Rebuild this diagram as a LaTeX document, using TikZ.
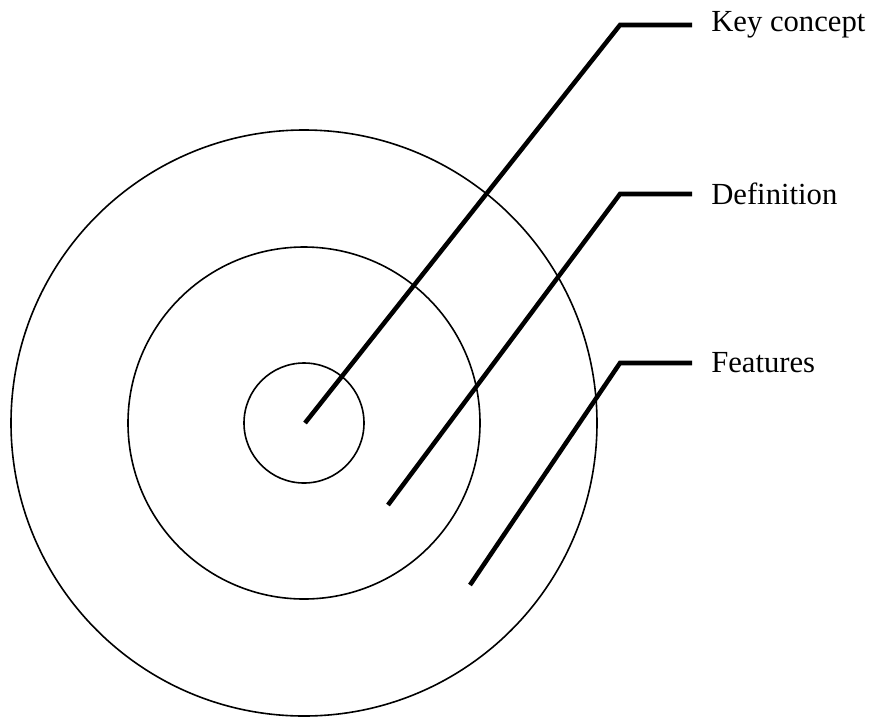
\documentclass[tikz,border=0pt]{standalone}
\usepackage{fontspec}
\setmainfont{Liberation Serif}

\begin{document}
\begin{tikzpicture}[x=0.75pt,y=-0.75pt,
		ring/.style={line width=1.2pt},
		pointer/.style={line width=3.4pt,line join=miter},
		tag/.style={anchor=west,inner xsep=14.25pt,inner ysep=0pt,font=\fontsize{23}{26}\selectfont}]
			\useasboundingbox (0,0) rectangle (879,719);
			\coordinate(O) at (304, 423);
			\draw[ring] (O) circle (60);
			\draw[ring] (O) circle (176);
			\draw[ring] (O) circle (293);
			
			\node[tag] (key) at (692, 25) {Key concept};
			\node[tag] (def) at (692, 194) {Definition};
			\node[tag] (feat) at (692, 363) {Features};
			
			\coordinate(K) at (305, 423);
			\coordinate(D) at (388, 505);
			\coordinate(F) at (470, 585);
			\draw[pointer] (K) -- (620, 25) -- (key.west);
			\draw[pointer] (D) -- (620, 194) -- (def.west);
			\draw[pointer] (F) -- (620, 363) -- (feat.west);
		\end{tikzpicture}
\end{document}
